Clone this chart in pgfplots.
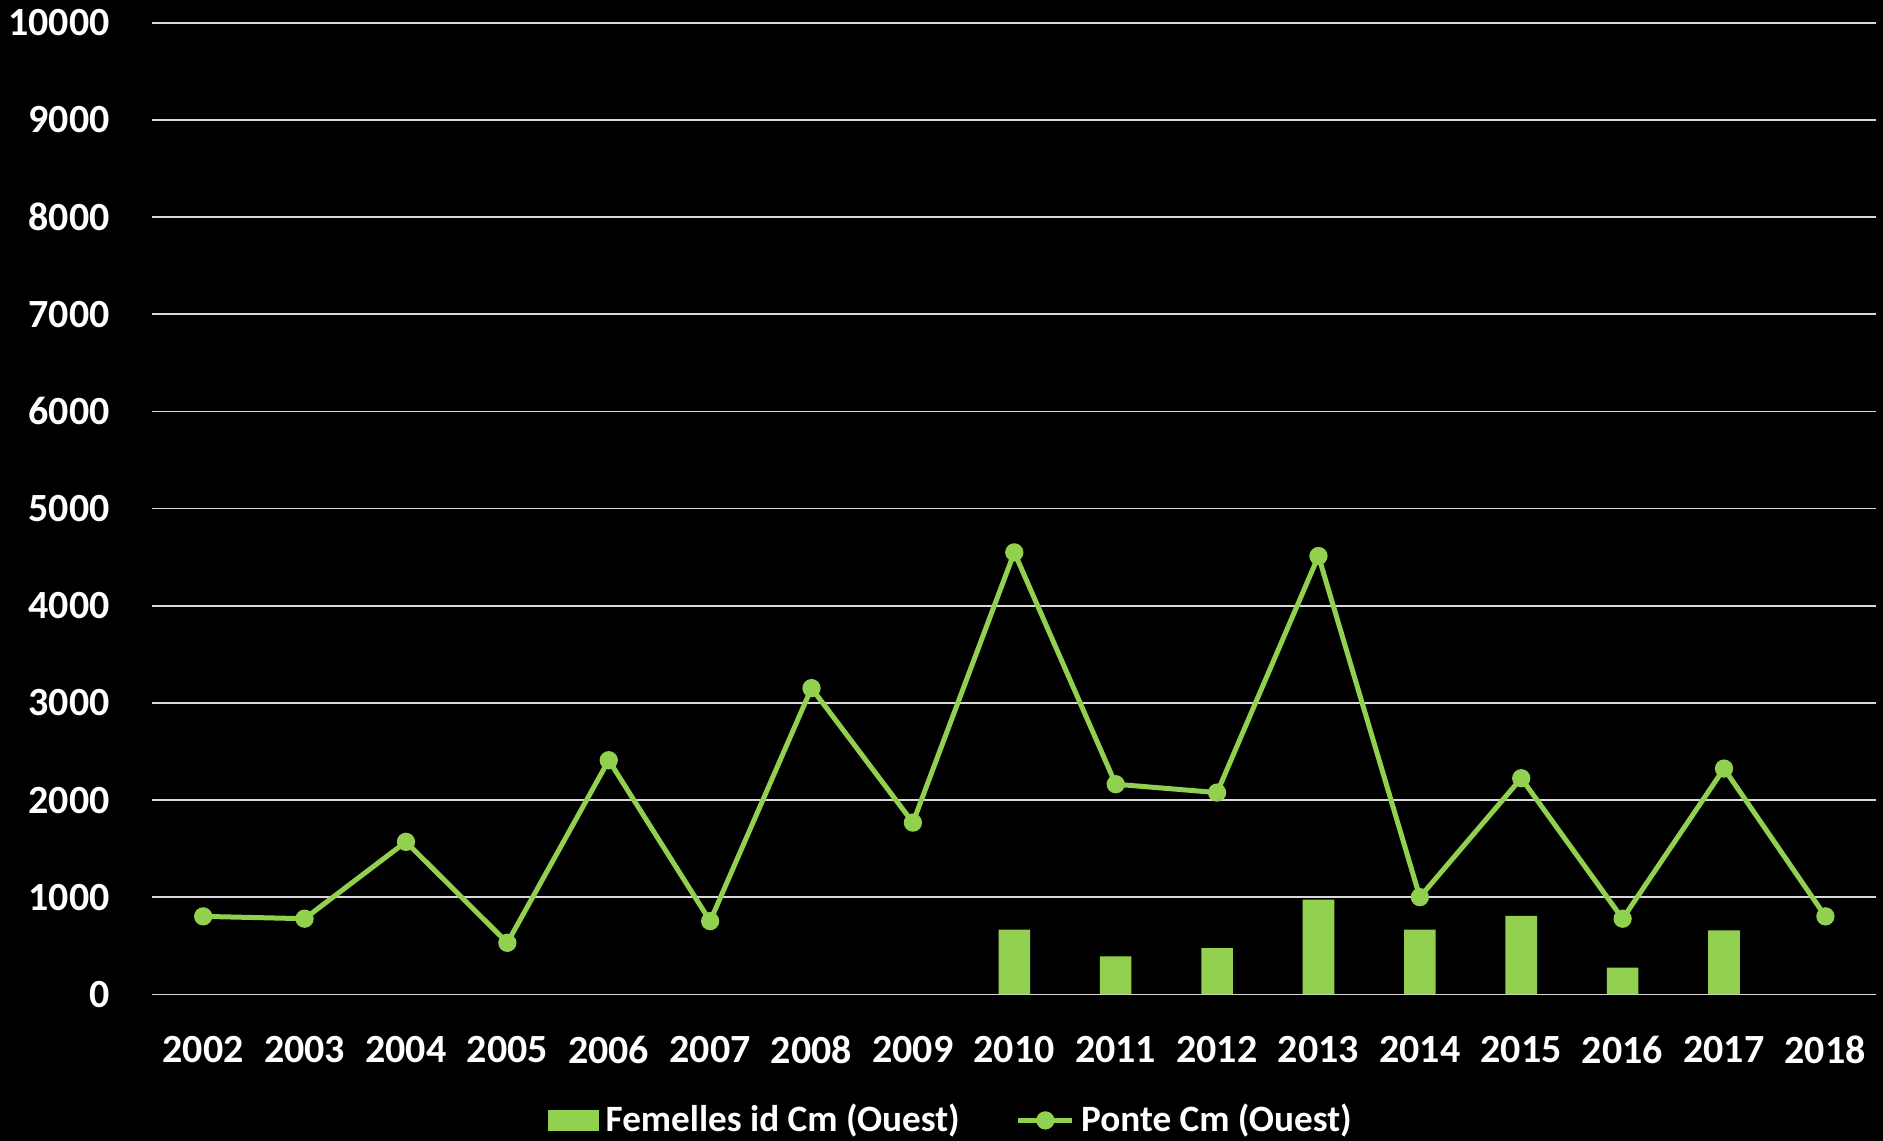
\documentclass[border=0pt]{standalone}
\usepackage{pgfplots}
\pgfplotsset{compat=1.18}
\usepackage{fontspec}
\setmainfont{Carlito}
\definecolor{cgreen}{HTML}{92D050}
\definecolor{cgrid}{HTML}{D9D9D9}
\begin{document}
\begin{tikzpicture}
\path[use as bounding box] (0,0) rectangle (470.75pt,285.25pt);
\fill[black] (0,0) rectangle (470.75pt,285.25pt);
\begin{axis}[
  at={(38.125pt,36.65pt)}, anchor=south west,
  scale only axis, width=430.9pt, height=242.9pt,
  xmin=2001.5, xmax=2018.5, ymin=0, ymax=10000,
  xtick={2002,...,2018}, ytick={0,1000,...,10000},
  scaled y ticks=false, scaled x ticks=false,
  axis line style={draw=none},
  major tick length=0pt,
  ymajorgrids, grid style={cgrid, line width=0.4pt},
  /pgf/number format/.cd, 1000 sep={}, assume math mode=true,
  /pgfplots/.cd,
  tick label style={font=\fontsize{10}{12}\selectfont\bfseries, text=white},
  xticklabel style={anchor=center, yshift=-13.8pt},
  yticklabel style={anchor=east, inner sep=0pt, xshift=-10.5pt},
  legend style={at={(axis description cs:0.4627,0)}, anchor=center, yshift=-31.5pt,
    draw=none, fill=none, text=white, font=\fontsize{9.3}{11}\selectfont\bfseries,
    nodes={inner sep=0pt},
    /tikz/every odd column/.append style={column sep=1.6pt},
    /tikz/every even column/.append style={column sep=14pt}},
  legend columns=2,
]
\addplot[ybar, bar width=7.9pt, bar shift=0pt, fill=cgreen, draw=none,
  legend image code/.code={\fill[cgreen] (0pt,-2.7pt) rectangle (12.75pt,2.7pt);}]
  coordinates {(2010,666) (2011,390) (2012,476) (2013,976) (2014,666) (2015,807) (2016,276) (2017,659)};
\addlegendentry{Femelles id Cm (Ouest)}
\addplot[cgreen, line width=1.25pt, mark=*, mark size=1.65pt, mark options={fill=cgreen, draw=cgreen},
  legend image code/.code={\draw[cgreen, line width=1.25pt] (0pt,0pt) -- (13.5pt,0pt); \fill[cgreen] (6.75pt,0pt) circle (1.65pt);}]
  coordinates {(2002,803) (2003,779) (2004,1570) (2005,531) (2006,2410) (2007,754) (2008,3152) (2009,1768) (2010,4549) (2011,2163) (2012,2077) (2013,4512) (2014,1001) (2015,2225) (2016,779) (2017,2324) (2018,803)};
\addlegendentry{Ponte Cm (Ouest)}
\end{axis}
\end{tikzpicture}
\end{document}
